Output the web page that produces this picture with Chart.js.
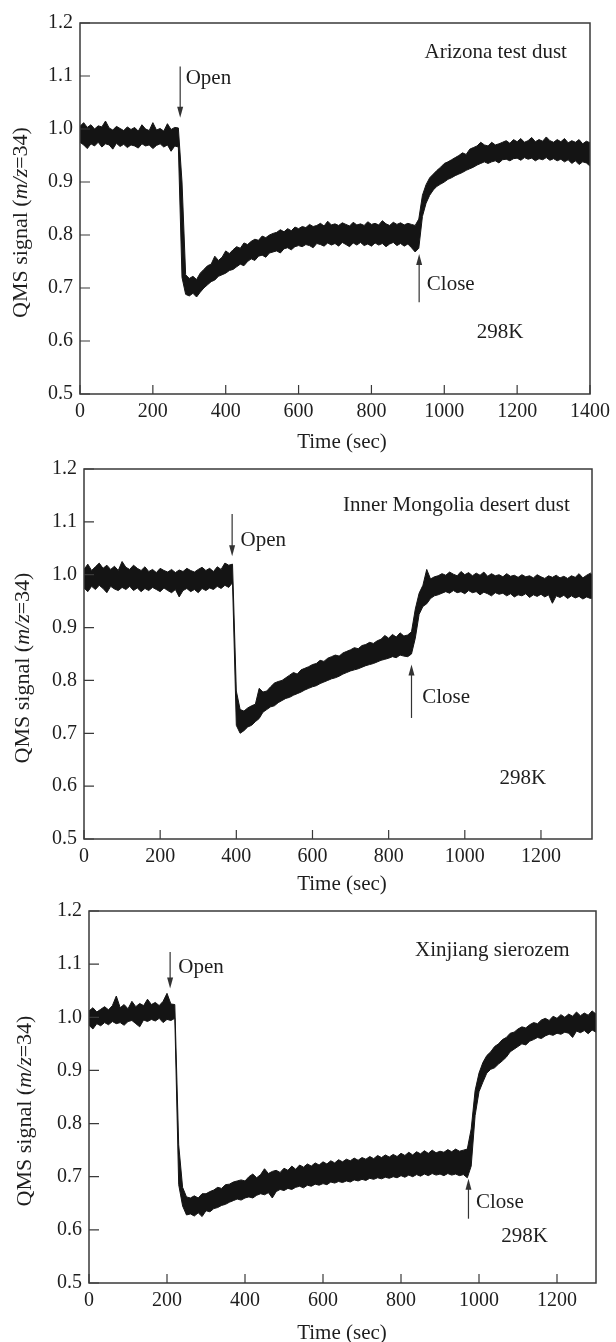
<!DOCTYPE html>
<html>
<head>
<meta charset="utf-8">
<script src="https://cdn.jsdelivr.net/npm/chart.js"></script>
<style>
  html, body { margin: 0; padding: 0; background: #fff; }
  body { width: 616px; height: 1342px; position: relative; overflow: hidden; }
  canvas { position: absolute; left: 0; }
</style>
</head>
<body>
<canvas id="c1" width="616" height="460" style="top:0px"></canvas>
<canvas id="c2" width="616" height="450" style="top:450px"></canvas>
<canvas id="c3" width="616" height="452" style="top:890px"></canvas>
<script>
// readings every STEP seconds, upper / lower edge of the noisy QMS trace
const STEP = 10;

// Arizona test dust, 0..1400 s
const hi1 = [
  1.005, 1.012, 1.003, 1.008, 1.000, 1.006, 1.004, 1.015, 1.002, 0.998,
  1.005, 1.001, 0.997, 1.004, 0.999, 1.003, 0.996, 1.008, 1.000, 0.997,
  1.012, 0.998, 1.001, 0.996, 1.010, 0.999, 1.003, 1.002,
  0.900,
  .725, .718, .722, .716, .728, .735, .742, .745, .760, .752,
  .758, .770, .765, .772, .778, .775, .785, .782, .788, .792,
  .790, .798, .795, .800, .803, .805, .810, .806, .812, .808,
  .815, .812,
  .816, .814, .820, .816, .818, .822, .817, .826, .819, .821,
  .818, .823, .820, .817, .824, .819, .821, .818, .825, .820,
  .822, .819, .827, .821, .818, .824, .820, .823, .819, .822,
  .820, .818, .830,
  .875, .895, .908, .915, .922, .928, .935, .938, .942, .946,
  .950, .955, .952, .962, .965, .968, .975,
  .970, .968, .975, .970, .972, .975, .978, .973, .980, .976,
  .982, .975, .978, .984, .976, .980, .977, .985, .978, .975,
  .980, .976, .982, .974, .978, .975, .980, .972, .977, .974
];
const lo1 = [
  .975, .970, .963, .972, .968, .975, .966, .972, .970, .962,
  .973, .967, .971, .965, .970, .968, .964, .972, .968, .970,
  .963, .969, .972, .966, .970, .958, .968, .966,
  .720,
  .688, .685, .690, .683, .692, .700, .706, .712, .715, .722,
  .725, .728, .733, .735, .740, .745, .742, .750, .755, .752,
  .760, .762, .758, .766, .768, .770, .766, .774, .776, .772,
  .778, .780,
  .778, .782, .780, .776, .784, .782, .779, .785, .781, .784,
  .779, .786, .782, .778, .785, .781, .786, .780, .783, .779,
  .785, .781, .784, .778, .783, .786, .780, .784, .779, .783,
  .776, .768, .775,
  .835, .860, .875, .885, .892, .896, .900, .905, .908, .912,
  .915, .918, .922, .925, .928, .932, .935,
  .938, .935, .938, .940, .936, .942, .943, .940, .944, .945,
  .941, .946, .943, .945, .940, .944, .942, .946, .941, .944,
  .940, .943, .938, .942, .935, .940, .933, .938, .936, .930
];

// Inner Mongolia desert dust, 0..1340 s
const hi2 = [
  1.010, 1.020, 1.008, 1.015, 1.022, 1.012, 1.018, 1.010, 1.016, 1.008,
  1.025, 1.014, 1.010, 1.018, 1.012, 1.008, 1.015, 1.006, 1.010, 1.004,
  1.012, 1.008, 1.005, 1.010, 1.004, 1.009, 1.006, 1.012, 1.008, 1.005,
  1.010, 1.014, 1.008, 1.012, 1.006, 1.015, 1.010, 1.022, 1.018, 1.020,
  .780,
  .745, .742, .748, .752, .755, .785, .778, .780, .788, .795,
  .798, .800, .805, .810, .815, .812, .820, .823, .826, .830,
  .832, .838, .836, .842, .845, .848, .846, .852, .855, .858,
  .862, .860, .866, .868, .872, .870, .875, .878, .885, .880,
  .887, .882, .890, .884, .886, .892,
  .935, .965, .980, 1.010, .992, .996, .998, 1.002, .999, 1.005,
  1.001, .998, 1.006, 1.000, 1.004, .998, 1.003, .999, 1.005, .997,
  1.002, .998, 1.000, .996, 1.002, .997, .999, .995, 1.000, .996,
  .998, .994, 1.000, .996, .993, .998, .995, .999, .994, .997,
  .993, .998, .995, 1.002, .994, .999, 1.003, .996
];
const lo2 = [
  .975, .968, .978, .972, .980, .974, .966, .978, .973, .970,
  .976, .972, .978, .970, .975, .968, .974, .970, .976, .972,
  .968, .975, .970, .966, .972, .958, .970, .974, .968, .972,
  .966, .974, .970, .975, .972, .978, .974, .980, .976, .985,
  .715,
  .700, .705, .712, .715, .722, .728, .740, .745, .750, .752,
  .758, .762, .766, .768, .772, .775, .778, .782, .785, .788,
  .790, .794, .797, .800, .803, .805, .808, .812, .815, .818,
  .820, .822, .825, .828, .830, .832, .835, .838, .840, .842,
  .845, .843, .848, .846, .845, .850,
  .880, .925, .940, .945, .955, .960, .962, .965, .968, .965,
  .970, .966, .968, .964, .970, .966, .968, .962, .967, .964,
  .960, .966, .963, .965, .960, .964, .958, .962, .960, .964,
  .957, .962, .959, .963, .958, .962, .946, .960, .957, .961,
  .955, .960, .956, .959, .954, .958, .955, .957
];

// Xinjiang sierozem, 0..1300 s
const hi3 = [
  1.012, 1.018, 1.010, 1.015, 1.020, 1.014, 1.022, 1.040, 1.018, 1.024,
  1.016, 1.030, 1.020, 1.026, 1.022, 1.034, 1.024, 1.028, 1.022, 1.030,
  1.045, 1.025, 1.024,
  .760, .680,
  .662, .660, .664, .660, .668, .668, .672, .675, .680, .678,
  .685, .686, .690, .692, .694, .692, .700, .705, .698, .704,
  .715, .706, .710, .712, .708, .716, .712, .720, .714, .722,
  .718, .724, .720, .726, .722, .728, .724, .730, .726, .732,
  .728, .733, .730, .735, .731, .736, .733, .738, .734, .740,
  .736, .741, .737, .742, .738, .744, .740, .746, .741, .747,
  .743, .749, .744, .750, .745, .748, .746, .751, .747, .752,
  .748, .750, .752,
  .790, .862, .895, .915, .928, .935, .945, .950, .958, .962,
  .970, .972, .978, .982, .980, .986, .990, .988, .995, .998,
  .994, 1.002, .998, 1.005, 1.000, 1.006, 1.002, 1.010, 1.003, 1.008,
  1.004, 1.012, 1.006
];
const lo3 = [
  .985, .978, .988, .984, .990, .986, .992, .988, .990, .985,
  .992, .994, .988, .982, .995, .992, .996, .993, .998, .990,
  .996, .994, .998,
  .685, .645,
  .628, .630, .626, .632, .625, .636, .634, .640, .642, .646,
  .648, .652, .655, .658, .656, .660, .662, .660, .665, .668,
  .666, .670, .660, .672, .676, .674, .678, .676, .680, .682,
  .679, .684, .682, .686, .684, .687, .685, .690, .688, .691,
  .689, .692, .690, .694, .692, .695, .693, .697, .695, .698,
  .696, .699, .697, .700, .698, .702, .699, .703, .700, .704,
  .701, .705, .702, .706, .703, .705, .702, .706, .703, .705,
  .702, .704, .698,
  .720, .815, .860, .878, .895, .902, .905, .912, .918, .925,
  .935, .940, .945, .950, .948, .955, .958, .962, .960, .965,
  .968, .966, .970, .968, .972, .970, .962, .974, .971, .975,
  .969, .976, .972
];

const yTicks = [0.5, 0.6, 0.7, 0.8, 0.9, 1.0, 1.1, 1.2];
const xTicks1 = [0, 200, 400, 600, 800, 1000, 1200, 1400];
const xTicks2 = [0, 200, 400, 600, 800, 1000, 1200];
const xTicks3 = [0, 200, 400, 600, 800, 1000, 1200];

const W = 616;
const FONT = '"Liberation Serif", "Times New Roman", serif';
const INK = '#141414';
const TXT = '#1e1e1e';
const FRAME = '#3a3a3a';

const panels = [
  { id: 'c1', h: 460, box: { left: 80, top: 23, right: 592, bottom: 394 },
    xMax: 1400, xTicks: xTicks1, hi: hi1, lo: lo1,
    yTitleX: 21, xTitleGap: 48,
    notes: [
      { text: 'Arizona test dust', x: 946, y: 1.145 },
      { text: 'Open', x: 290, y: 1.095 },
      { text: 'Close', x: 952, y: 0.707 },
      { text: '298K', x: 1089, y: 0.616 }
    ],
    arrows: [ { x: 275, from: 1.118, to: 1.021 }, { x: 931, from: 0.673, to: 0.764 } ] },
  { id: 'c2', h: 450, box: { left: 84, top: 17, right: 592, bottom: 389 },
    xMax: 1334, xTicks: xTicks2, hi: hi2, lo: lo2,
    yTitleX: 23, xTitleGap: 45,
    notes: [
      { text: 'Inner Mongolia desert dust', x: 680, y: 1.131 },
      { text: 'Open', x: 411, y: 1.064 },
      { text: 'Close', x: 888, y: 0.767 },
      { text: '298K', x: 1091, y: 0.614 }
    ],
    arrows: [ { x: 389, from: 1.115, to: 1.035 }, { x: 860, from: 0.729, to: 0.830 } ] },
  { id: 'c3', h: 452, box: { left: 89, top: 21, right: 596, bottom: 393 },
    xMax: 1300, xTicks: xTicks3, hi: hi3, lo: lo3,
    yTitleX: 25, xTitleGap: 50,
    notes: [
      { text: 'Xinjiang sierozem', x: 836, y: 1.125 },
      { text: 'Open', x: 229, y: 1.094 },
      { text: 'Close', x: 992, y: 0.652 },
      { text: '298K', x: 1057, y: 0.587 }
    ],
    arrows: [ { x: 208, from: 1.123, to: 1.054 }, { x: 973, from: 0.621, to: 0.696 } ] }
];

const toXY = arr => arr.map((v, i) => ({ x: i * STEP, y: v }));

function makeDecor(p) {
  return {
    id: 'decor',
    afterDraw(chart) {
      const { ctx, chartArea: a, scales: { x, y } } = chart;
      ctx.save();

      // box frame
      ctx.strokeStyle = FRAME;
      ctx.lineWidth = 1.5;
      ctx.strokeRect(a.left, a.top, a.right - a.left, a.bottom - a.top);

      // inward tick marks on left and bottom axes
      ctx.lineWidth = 1.2;
      ctx.beginPath();
      x.ticks.forEach(t => {
        const px = x.getPixelForValue(t.value);
        ctx.moveTo(px, a.bottom);
        ctx.lineTo(px, a.bottom - 9);
      });
      y.ticks.forEach(t => {
        const py = y.getPixelForValue(t.value);
        ctx.moveTo(a.left, py);
        ctx.lineTo(a.left + 10, py);
      });
      ctx.stroke();

      // Open / Close arrows
      ctx.strokeStyle = '#333';
      ctx.fillStyle = '#333';
      ctx.lineWidth = 1.2;
      p.arrows.forEach(ar => {
        const px = x.getPixelForValue(ar.x);
        const y0 = y.getPixelForValue(ar.from);
        const y1 = y.getPixelForValue(ar.to);
        const dir = y1 > y0 ? 1 : -1;
        ctx.beginPath();
        ctx.moveTo(px, y0);
        ctx.lineTo(px, y1 - dir * 10);
        ctx.stroke();
        ctx.beginPath();
        ctx.moveTo(px, y1);
        ctx.lineTo(px - 3, y1 - dir * 11);
        ctx.lineTo(px + 3, y1 - dir * 11);
        ctx.closePath();
        ctx.fill();
      });

      // notes
      ctx.fillStyle = TXT;
      ctx.font = '21px ' + FONT;
      ctx.textBaseline = 'middle';
      ctx.textAlign = 'left';
      p.notes.forEach(n => {
        ctx.fillText(n.text, x.getPixelForValue(n.x), y.getPixelForValue(n.y));
      });

      // x axis title
      ctx.textAlign = 'center';
      ctx.fillText('Time (sec)', 342, a.bottom + p.xTitleGap);

      // y axis title with italic m/z
      const parts = [
        ['QMS signal (', '22px ' + FONT],
        ['m/z', 'italic 22px ' + FONT],
        ['=34)', '22px ' + FONT]
      ];
      let total = 0;
      parts.forEach(pt => { ctx.font = pt[1]; total += ctx.measureText(pt[0]).width; });
      ctx.translate(p.yTitleX, (a.top + a.bottom) / 2 + 14);
      ctx.rotate(-Math.PI / 2);
      ctx.textAlign = 'left';
      let cx = -total / 2;
      parts.forEach(pt => {
        ctx.font = pt[1];
        ctx.fillText(pt[0], cx, 0);
        cx += ctx.measureText(pt[0]).width;
      });
      ctx.restore();
    }
  };
}

panels.forEach(p => {
  new Chart(document.getElementById(p.id), {
    type: 'line',
    data: {
      datasets: [
        { data: toXY(p.hi), borderColor: INK, borderWidth: 1, pointRadius: 0, fill: false, tension: 0 },
        { data: toXY(p.lo), borderColor: INK, borderWidth: 1, pointRadius: 0, fill: '-1', backgroundColor: INK, tension: 0 }
      ]
    },
    options: {
      responsive: false,
      animation: false,
      devicePixelRatio: 1,
      events: [],
      layout: { padding: { top: p.box.top, right: W - p.box.right, left: 0, bottom: 0 } },
      plugins: { legend: { display: false }, tooltip: { enabled: false } },
      scales: {
        x: {
          type: 'linear', min: 0, max: p.xMax,
          grid: { display: false, drawTicks: false },
          border: { display: false },
          afterBuildTicks: s => { s.ticks = p.xTicks.map(v => ({ value: v })); },
          afterFit: s => { s.height = p.h - p.box.bottom; },
          ticks: {
            font: { family: FONT, size: 20 }, color: TXT, padding: 6,
            maxRotation: 0, autoSkip: false, callback: v => String(v)
          }
        },
        y: {
          min: 0.5, max: 1.2,
          grid: { display: false, drawTicks: false },
          border: { display: false },
          afterBuildTicks: s => { s.ticks = yTicks.map(v => ({ value: v })); },
          afterFit: s => { s.width = p.box.left; },
          ticks: {
            font: { family: FONT, size: 20 }, color: TXT, padding: 7,
            autoSkip: false, callback: v => v.toFixed(1)
          }
        }
      }
    },
    plugins: [makeDecor(p)]
  });
});
</script>
</body>
</html>
